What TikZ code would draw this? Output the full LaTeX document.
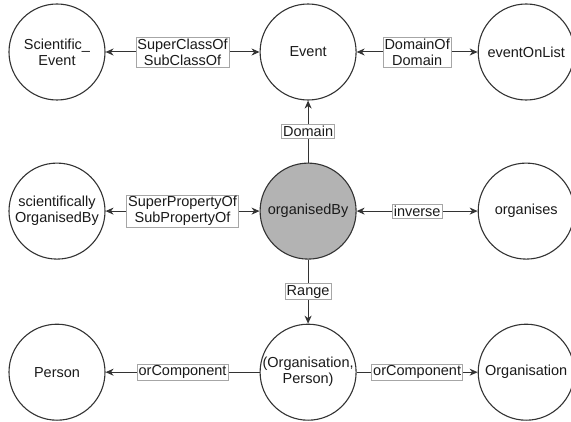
\documentclass[tikz,border=0pt]{standalone}
\usepackage{fontspec}
\setmainfont{Liberation Sans}
\definecolor{OntoLine}{HTML}{333333}
\definecolor{OntoGray}{HTML}{B3B3B3}
\definecolor{OntoFrame}{HTML}{A6A6A6}
\definecolor{OntoText}{HTML}{1A1A1A}
\usetikzlibrary{arrows.meta,positioning}
\tikzset{
  concept/.style={circle, draw=OntoLine, line width=1.1pt, minimum size=96pt, inner sep=0pt, align=center, fill=white, text=OntoText, font=\fontsize{14.5}{16}\selectfont},
  focus/.style={concept, fill=OntoGray},
  rel/.style={draw=OntoFrame, line width=0.6pt, fill=white, inner sep=1.5pt, align=center, text=OntoText, font=\fontsize{14.5}{16}\selectfont},
  link/.style={-{Stealth[length=8pt,width=7pt,inset=2.5pt]}, line width=1pt, OntoLine},
  twoway/.style={link, {Stealth[length=8pt,width=7pt,inset=2.5pt]}-{Stealth[length=8pt,width=7pt,inset=2.5pt]}}
}

\begin{document}
\begin{tikzpicture}
    \useasboundingbox (0,0) rectangle (571pt,-422pt);

    \node[concept] (sciEvent) at (57pt,-52pt) {Scientific\_\\Event};
    \node[concept, right=154pt of sciEvent] (event) {Event};
    \node[concept, right=121pt of event] (onList) {eventOnList};

    \node[concept, below=62pt of sciEvent] (sciOrg) {scientifically\\OrganisedBy};
    \node[focus, below=62pt of event] (orgBy) {organisedBy};
    \node[concept, below=62pt of onList] (orgs) {organises};

    \node[concept, below=64pt of sciOrg] (person) {Person};
    \node[concept, below=64pt of orgBy] (orgPerson) {(Organisation,\\Person)};
    \node[concept, below=64pt of orgs] (organisation) {Organisation};

    \draw[twoway] (sciEvent) -- node[rel] {SuperClassOf\\SubClassOf} (event);
    \draw[twoway] (event) -- node[rel] {DomainOf\\Domain} (onList);
    \draw[twoway] (sciOrg) -- node[rel] {SuperPropertyOf\\SubPropertyOf} (orgBy);
    \draw[twoway] (orgBy) -- node[rel] {inverse} (orgs);
    \draw[link] (orgBy) -- node[rel] {Domain} (event);
    \draw[link] (orgBy) -- node[rel] {Range} (orgPerson);
    \draw[link] (orgPerson) -- node[rel] {orComponent} (person);
    \draw[link] (orgPerson) -- node[rel] {orComponent} (organisation);
  \end{tikzpicture}
\end{document}
